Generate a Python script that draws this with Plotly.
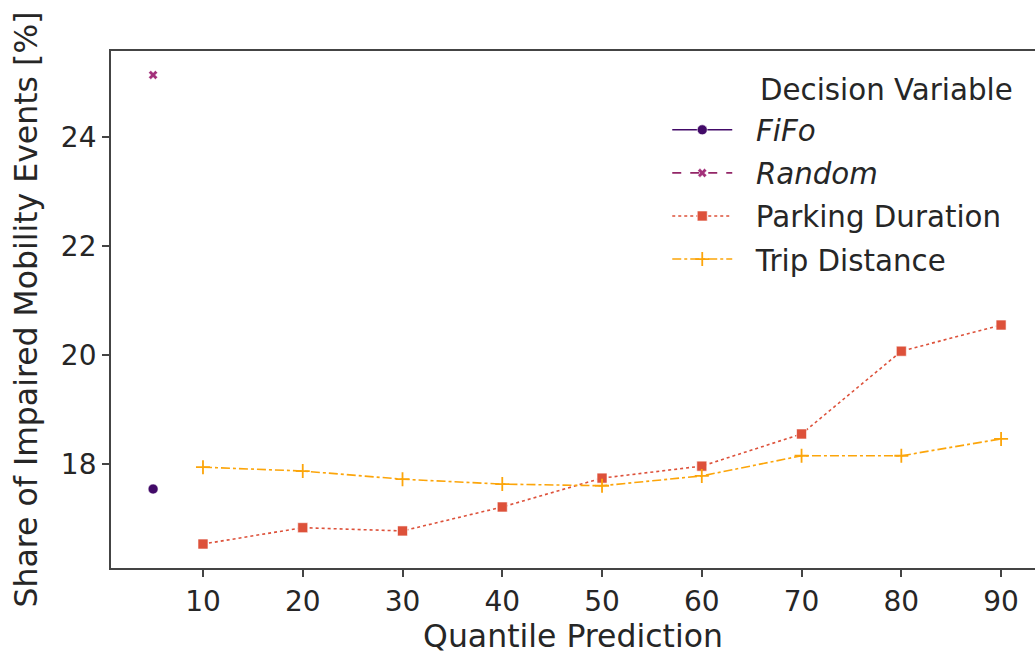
import plotly.graph_objects as go

# ---- data ----
quantiles = [10, 20, 30, 40, 50, 60, 70, 80, 90]
parking_duration = [16.53, 16.83, 16.77, 17.21, 17.74, 17.96, 18.55, 20.07, 20.55]
trip_distance = [17.94, 17.87, 17.72, 17.63, 17.60, 17.78, 18.15, 18.15, 18.46]
baseline_x = [5]
fifo = [17.54]
random_ = [25.14]
x_ticks = [10, 20, 30, 40, 50, 60, 70, 80, 90]
y_ticks = [18, 20, 22, 24]

colors = ["#420a68", "#932667", "#dd513a", "#fca50a"]
FONT = "DejaVu Sans"
TXT = "#262626"
AX = "#444444"
GAP = "\u00a0\u00a0"

fig = go.Figure()
fig.add_trace(go.Scatter(
    x=baseline_x, y=fifo, name=GAP + "<i>FiFo</i>", mode="lines+markers",
    line=dict(color=colors[0], width=1.6, dash="solid"),
    marker=dict(symbol="circle", size=10, color=colors[0], line=dict(color="white", width=0.6)),
    legendgroup="a"))
fig.add_trace(go.Scatter(
    x=baseline_x, y=random_, name=GAP + "<i>Random</i>", mode="lines+markers",
    line=dict(color=colors[1], width=1.6, dash="dash"),
    marker=dict(symbol="x", size=8, color="#a3307a", line=dict(color="white", width=0.4)),
    legendgroup="b"))
fig.add_trace(go.Scatter(
    x=quantiles, y=parking_duration, name=GAP + "Parking Duration", mode="lines+markers",
    line=dict(color=colors[2], width=1.6, dash="dot"),
    marker=dict(symbol="square", size=10, color=colors[2], line=dict(color="white", width=0.6)),
    legendgroup="c"))
fig.add_trace(go.Scatter(
    x=quantiles, y=trip_distance, name=GAP + "Trip Distance", mode="lines+markers",
    line=dict(color=colors[3], width=1.6, dash="dashdot"),
    marker=dict(symbol="cross-thin", size=10, color=colors[3], line=dict(color=colors[3], width=1.8)),
    legendgroup="d"))

fig.update_layout(
    width=1035, height=654,
    margin=dict(l=111, r=0, t=51, b=86),
    paper_bgcolor="white", plot_bgcolor="white",
    font=dict(family=FONT, size=28, color=TXT),
    showlegend=True,
    legend=dict(x=0.602, y=0.897, xanchor="left", yanchor="top",
                bgcolor="rgba(0,0,0,0)", font=dict(size=29.3, color=TXT),
                itemwidth=60, tracegroupgap=2),
    annotations=[dict(text="Decision Variable", x=(758 - 111) / 924, y=1 - (90 - 51) / 517,
                      xref="paper", yref="paper", xanchor="left", yanchor="middle",
                      showarrow=False, font=dict(size=29.3, color=TXT))],
)
fig.update_xaxes(
    range=[0.78, 93.4], tickvals=x_ticks, ticks="outside", ticklen=7, tickwidth=1.5,
    tickcolor=AX, showline=True, linecolor=AX, linewidth=1.8, mirror=True,
    showgrid=False, zeroline=False, tickfont=dict(size=28, color=TXT),
    title=dict(text="Quantile Prediction", font=dict(size=31.5, color=TXT), standoff=11))
fig.update_yaxes(
    range=[16.09, 25.58], tickvals=y_ticks, ticks="outside", ticklen=7, tickwidth=1.5,
    tickcolor=AX, showline=True, linecolor=AX, linewidth=1.8,
    showgrid=False, zeroline=False, tickfont=dict(size=28, color=TXT),
    title=dict(text="Share of Impaired Mobility Events [%]", font=dict(size=31.5, color=TXT), standoff=14))

fig.write_html("out.html")
